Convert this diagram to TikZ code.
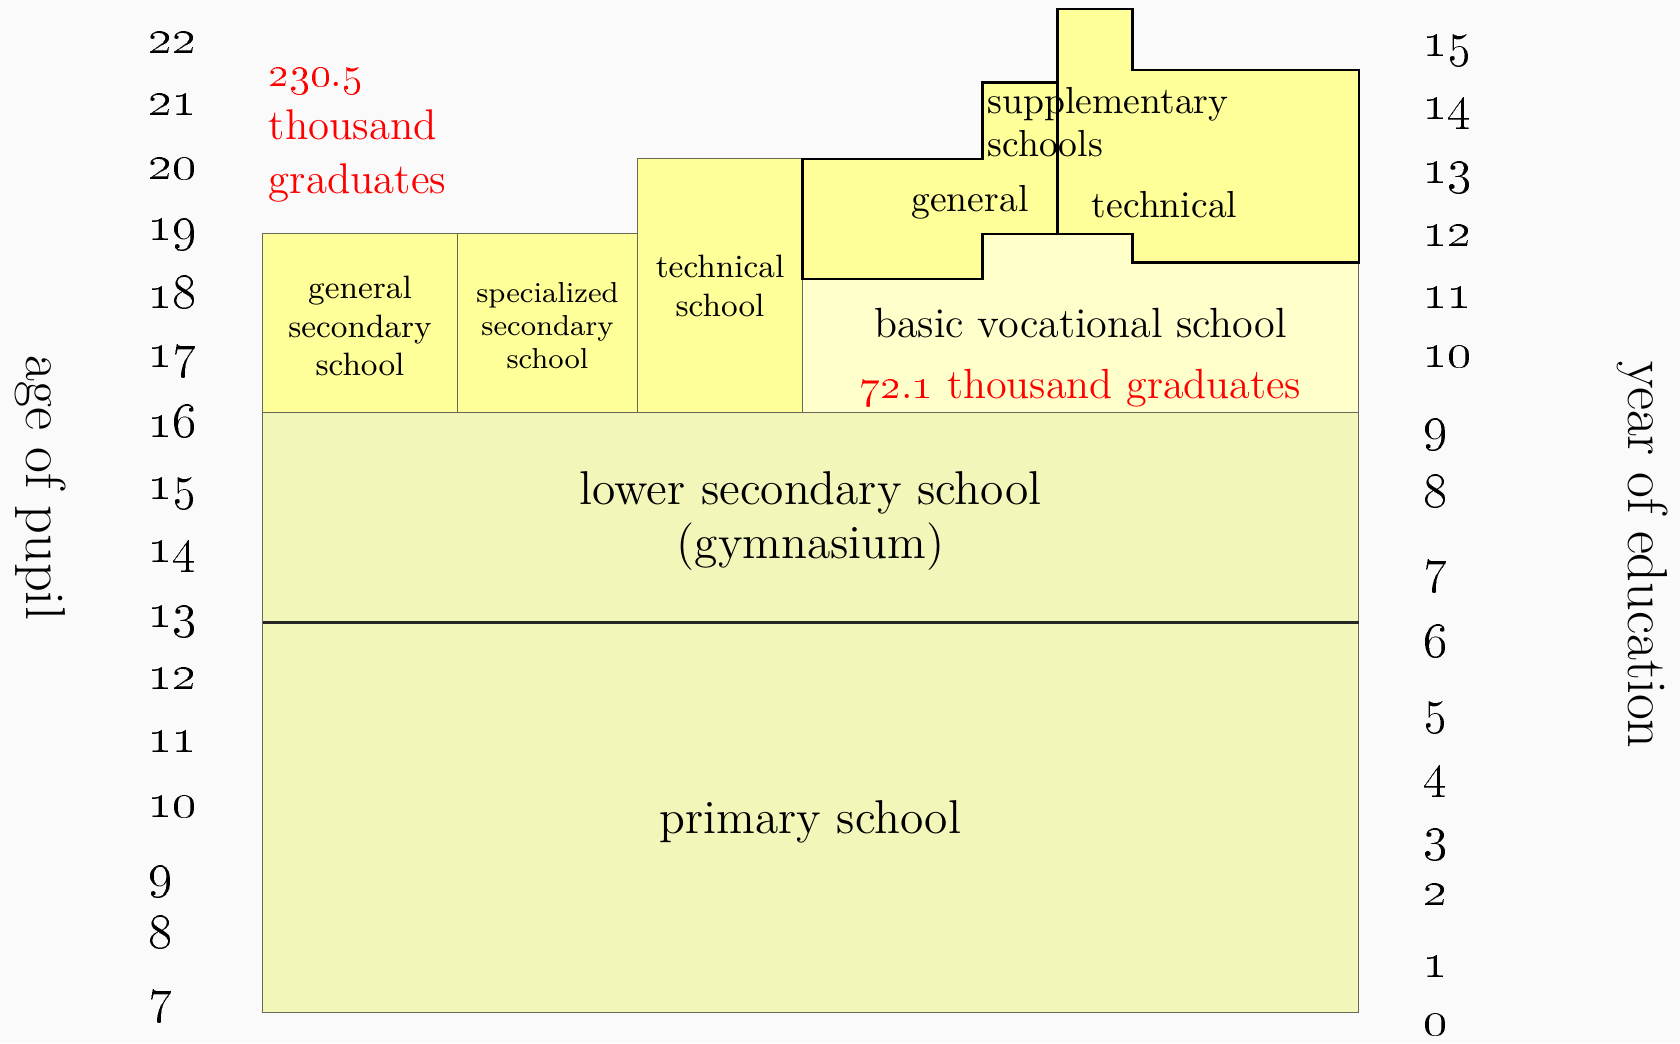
\documentclass[tikz,border=0pt]{standalone}
\usepackage{xcolor}
\usetikzlibrary{positioning}
\definecolor{paper}{HTML}{FAFAFA}
\definecolor{upper}{HTML}{FFFF99}
\definecolor{lower}{HTML}{F3F6B9}
\definecolor{vocfill}{HTML}{FFFFCC}
\definecolor{edge}{HTML}{68685A}
\tikzset{school/.style={draw=edge,line width=0.35pt},
  stage/.style={draw=black,line width=0.6pt,fill=upper},
  lbl/.style={inner sep=0pt,align=center},
  huge lbl/.style={lbl,font=\fontsize{13.5}{15.2}\selectfont},
  mid lbl/.style={lbl,font=\fontsize{12}{14}\selectfont},
  top lbl/.style={lbl,font=\fontsize{10.7}{12.2}\selectfont},
  box lbl/.style={lbl,font=\fontsize{9.2}{10.9}\selectfont},
  tiny lbl/.style={lbl,font=\fontsize{8.2}{9.4}\selectfont},
  tick/.style={inner sep=0pt,anchor=base west,font=\fontsize{14.5}{16}\selectfont},
  axis lbl/.style={inner sep=0pt,rotate=-90,font=\fontsize{16}{18}\selectfont}}

\begin{document}
\begin{tikzpicture}[x=0.01cm,y=-0.01cm]
\fill[paper] (0,0) rectangle (1680,1043);
\useasboundingbox (0,0) rectangle (1680,1043);
% compulsory part
\filldraw[school,fill=lower] (262.5,622.5) rectangle (1358.6,1012.5);
\filldraw[school,fill=lower] (262.5,412.5) rectangle (1358.6,622.5);
\draw[line width=0.6pt,black!85] (262.5,622.5) -- (1358.6,622.5);
% upper secondary row
\filldraw[school,fill=upper] (262.5,233.6) rectangle (457.5,412.5);
\filldraw[school,fill=upper] (457.5,233.6) rectangle (637.5,412.5);
\filldraw[school,fill=upper] (637.5,158.6) rectangle (802.5,412.5);
\filldraw[school,fill=vocfill] (802.5,233.6) rectangle (1358.6,412.5);
% supplementary schools on top of the vocational one
\draw[stage] (802.5,158.6) -- (982.5,158.6) -- (982.5,82.5) -- (1057.5,82.5)
  -- (1057.5,233.6) -- (982.5,233.6) -- (982.5,278.6) -- (802.5,278.6) -- cycle;
\draw[stage] (1057.5,8.6) -- (1132.5,8.6) -- (1132.5,69.6) -- (1358.6,69.6)
  -- (1358.6,262.5) -- (1132.5,262.5) -- (1132.5,233.6) -- (1057.5,233.6) -- cycle;

\node[huge lbl,anchor=base] (primary) at (810.5,833.6) {primary school};
\node[huge lbl] (gymn) at (810.5,521) {lower secondary school\\(gymnasium)};
\node[box lbl] (gensec) at (360,326) {general\\secondary\\school};
\node[tiny lbl] (specsec) at (547.5,326) {specialized\\secondary\\school};
\node[box lbl] (techsch) at (720,286) {technical\\school};
\node[mid lbl,anchor=base] (basicvoc) at (1080.5,337.5) {basic vocational school};
\node[mid lbl,anchor=base,red] (vocgrad) at (1080.5,398.6)
  {\oldstylenums{72}.\oldstylenums{1} thousand graduates};
\node[top lbl,anchor=base] (suppgen) at (970,212) {general};
\node[top lbl,anchor=base] (supptech) at (1164.6,217.5) {technical};
\node[top lbl,align=left,anchor=west] (supp) at (987,122) {supplementary\\schools};
\node[mid lbl,align=left,anchor=west,red,font=\fontsize{12.2}{15.2}\selectfont]
  (secgrad) at (268,135) {\oldstylenums{230}.\oldstylenums{5}\\thousand\\graduates};

% the two scales
\foreach \a/\y in {22/53.6,21/115.7,20/180,19/241,18/308.6,17/367.5,16/437,15/499,
  14/562.5,13/627,12/689,11/752,10/817.5,9/887,8/948,7/1012.5}
  \node[tick] (age\a) at (148,\y) {\oldstylenums{\a}};
\foreach \a/\y in {15/57,14/120,13/184,12/247,11/308,10/367,9/440,8/507,
  7/582,6/657,5/723,4/787,3/850,2/905,1/977,0/1035}
  \node[tick] (yr\a) at (1423,\y) {\oldstylenums{\a}};
\node[axis lbl] (agelbl) at (41,488) {age of pupil};
\node[axis lbl] (yrlbl) at (1643,555) {year of education};
\end{tikzpicture}
\end{document}
